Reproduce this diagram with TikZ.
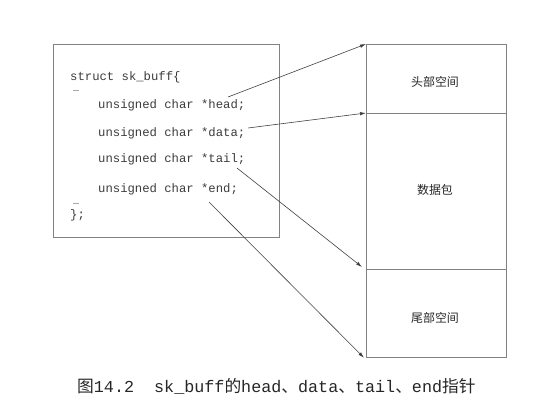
\documentclass[tikz,border=0pt]{standalone}
\usepackage{fontspec}
\setmonofont{Liberation Mono}
\newfontfamily\cjk{Noto Sans CJK SC}
\usetikzlibrary{arrows.meta}
\definecolor{boxgray}{RGB}{130,130,130}
\definecolor{codegray}{RGB}{60,60,60}
\begin{document}
\begin{tikzpicture}[x=1bp,y=-1bp,
  frame/.style={draw=boxgray, line width=0.8bp, inner sep=0, anchor=north west},
  cell/.style={frame, minimum width=140bp},
  lbl/.style={inner sep=0, font=\cjk\fontsize{12}{14}\selectfont, text=black!85},
  code/.style={anchor=base west, inner sep=0, font=\ttfamily\fontsize{12.3}{14}\selectfont, text=codegray},
  dots/.style={code, font=\ttfamily\fontsize{10}{12}\selectfont},
  ptr/.style={draw=black!75, line width=0.6bp, -{Latex[length=6bp,width=3.5bp]}}]
\useasboundingbox (0,0) rectangle (557,415);
% left struct box
\node[frame, minimum width=226bp, minimum height=193bp] (sb) at (53,44) {};
\node[code] (l1) at (70,80) {struct sk\_buff\{};
\node[dots] (e1) at (73,91) {…};
\node[code] (lh) at (98,108) {unsigned char *head;};
\node[code] (ld) at (98,136) {unsigned char *data;};
\node[code] (lt) at (98,162) {unsigned char *tail;};
\node[code] (le) at (98,192) {unsigned char *end;};
\node[dots] (e2) at (73,204) {…};
\node[code] (l7) at (70,218) {\};};
% right memory box
\node[cell, minimum height=69bp] (hs) at (366,44) {};
\node[cell, minimum height=156bp] (pk) at (366,113) {};
\node[cell, minimum height=88bp] (ts) at (366,269) {};
\node[lbl] (hsl) at (435,82) {头部空间};
\node[lbl] (pkl) at (435,190) {数据包};
\node[lbl] (tsl) at (435,318) {尾部空间};
% pointer starts
\coordinate (sh) at (228,97);
\coordinate (sd) at (248,128);
\coordinate (st) at (237,168);
\coordinate (se) at (209,202);
\coordinate (tt) at ([xshift=-4bp,yshift=2bp]ts.north west);
\coordinate (te) at ([xshift=-2bp]ts.south west);
\draw[ptr] (sh) -- (hs.north west);
\draw[ptr] (sd) -- (pk.north west);
\draw[ptr] (st) -- (tt);
\draw[ptr] (se) -- (te);
% caption
\node[anchor=base west, inner sep=0, text=black!85, font=\fontsize{16.8}{18}\selectfont] (cap) at (77,392)
  {{\cjk 图}\texttt{14.2\ \ sk\_buff}{\cjk 的}\texttt{head}{\cjk 、}\texttt{data}{\cjk 、}\texttt{tail}{\cjk 、}\texttt{end}{\cjk 指针}};
\end{tikzpicture}
\end{document}
